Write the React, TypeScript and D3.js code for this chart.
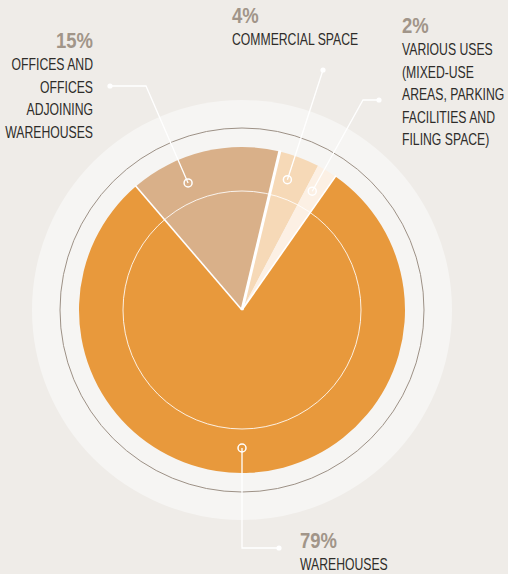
import React from 'react';
import * as d3 from 'd3';

// share of floor space by use, clockwise starting with warehouses
const categories = ['warehouses', 'offices', 'commercial', 'various'];
const values = [79, 15, 4, 2];
const percentLabels = ['79%', '15%', '4%', '2%'];
const labelLines = [
  ['WAREHOUSES'],
  ['OFFICES AND', 'OFFICES', 'ADJOINING', 'WAREHOUSES'],
  ['COMMERCIAL SPACE'],
  ['VARIOUS USES', '(MIXED-USE', 'AREAS, PARKING', 'FACILITIES AND', 'FILING SPACE)'],
];
const sliceColors = ['#E8993C', '#D9B089', '#F6D9B7', '#FCF0E4'];

const W = 508;
const H = 574;
const cx = 242;
const cy = 310;
const R = 163;
const innerRingR = 119;
const thinRingR = 182;
const diskR = 210;
const anchorR = 138;
// no narrow font installed, so squeeze Liberation Sans sideways
const FONT = '"Liberation Sans", Arial, sans-serif';
const BODY_SCALE = 0.75;
const PCT_SCALE = 0.84;

// label layout: text position, alignment, leader path (knee + end dot), angle nudge in degrees
const labelLayout = [
  { x: 300, y: 548, anchor: 'start', knee: [242, 548], end: [279, 548], nudge: 2.8 },
  { x: 93, y: 48, anchor: 'end', knee: [146, 86], end: [110, 86], nudge: -9.4 },
  { x: 232, y: 23, anchor: 'start', knee: null, end: [323, 70], nudge: -1.4 },
  { x: 402, y: 33, anchor: 'start', knee: [363, 100], end: [379, 100], nudge: -0.8 },
];

const App = () => {
  const pie = d3
    .pie<number>()
    .sort(null)
    .startAngle((35 * Math.PI) / 180)
    .endAngle((35 * Math.PI) / 180 + 2 * Math.PI);
  const arcs = pie(values);
  const arc = d3.arc<d3.PieArcDatum<number>>().innerRadius(0).outerRadius(R);
  const sepWidth = [1.6, 1.6, 3, 2];

  return (
    <div style={{ position: 'absolute', left: 0, top: 0, width: W, height: H }}>
      <svg width={W} height={H} style={{ display: 'block' }}>
        <rect width={W} height={H} fill="#EFECE8" />
        <g transform={`translate(${cx},${cy})`}>
          <circle r={diskR} fill="#F6F5F3" />
          <circle r={thinRingR} fill="none" stroke="#9D9186" strokeWidth={1} />
          {arcs.map((a, i) => (
            <path key={categories[i]} d={arc(a) ?? ''} fill={sliceColors[i]} />
          ))}
          <circle r={innerRingR} fill="none" stroke="#FFFFFF" strokeWidth={1} opacity={0.85} />
          {/* white separators at slice starts */}
          {arcs.map((a, i) =>
            i === 3 ? null : (
              <line
                key={'sep' + i}
                x1={0}
                y1={0}
                x2={Math.sin(a.startAngle) * (R + 1)}
                y2={-Math.cos(a.startAngle) * (R + 1)}
                stroke="#FFFFFF"
                strokeWidth={sepWidth[i]}
              />
            )
          )}
        </g>
        {arcs.map((a, i) => {
          const lay = labelLayout[i];
          const ang = (a.startAngle + a.endAngle) / 2 + (lay.nudge * Math.PI) / 180;
          const ax = cx + Math.sin(ang) * anchorR;
          const ay = cy - Math.cos(ang) * anchorR;
          const pts = [[ax, ay], ...(lay.knee ? [lay.knee] : []), lay.end];
          const path = d3.line()(pts as [number, number][]) ?? '';
          return (
            <g key={'lab' + i}>
              <path d={path} fill="none" stroke="#FFFFFF" strokeWidth={1.3} />
              <circle cx={ax} cy={ay} r={4} fill="none" stroke="#FFFFFF" strokeWidth={1.5} />
              <circle cx={lay.end[0]} cy={lay.end[1]} r={2.6} fill="#FFFFFF" />
              <text
                transform={`translate(${lay.x},${lay.y}) scale(${PCT_SCALE},1)`}
                textAnchor={lay.anchor as any}
                fontFamily={FONT}
                fontWeight="bold"
                fontSize={22}
                fill="#A19589"
              >
                {percentLabels[i]}
              </text>
              {labelLines[i].map((t, j) => (
                <text
                  key={j}
                  transform={`translate(${lay.x},${lay.y + 22.5 * (j + 1) - 0.5}) scale(${BODY_SCALE},1)`}
                  textAnchor={lay.anchor as any}
                  fontFamily={FONT}
                  fontSize={16.3}
                  fill="#2E2C2A"
                >
                  {t}
                </text>
              ))}
            </g>
          );
        })}
      </svg>
    </div>
  );
};

export default App;
